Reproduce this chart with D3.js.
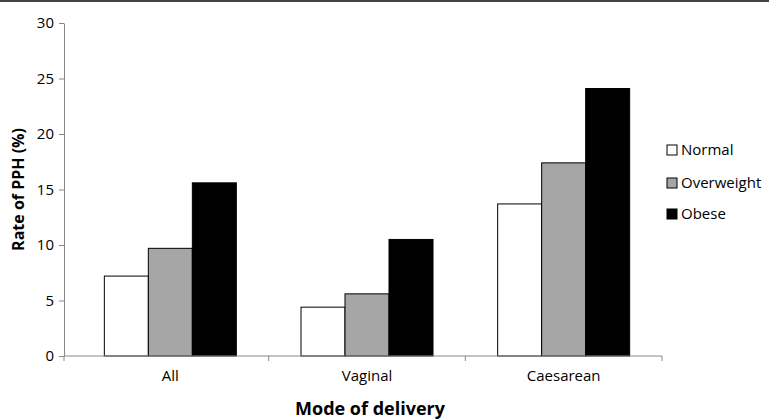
<!DOCTYPE html>
<html><head><meta charset="utf-8">
<script src="https://cdn.jsdelivr.net/npm/d3@7"></script>
<style>body{margin:0;background:#fff}svg{font-family:"Open Sans",sans-serif}</style>
</head><body><svg width="769" height="419"></svg>
<script>
const categories = ['All', 'Vaginal', 'Caesarean']
const seriesNames = ['Normal', 'Overweight', 'Obese']
const normal = [7.2, 4.4, 13.7]
const overweight = [9.7, 5.6, 17.4]
const obese = [15.6, 10.5, 24.1]
const yTicks = [0, 5, 10, 15, 20, 25, 30]
const colors = ['#ffffff', '#a6a6a6', '#000000']
const series = [normal, overweight, obese]

const svg = d3.select('svg')
svg.append('rect').attr('x', 0).attr('y', 0).attr('width', 769).attr('height', 2).attr('fill', '#444')

const margin = { left: 64, top: 23, right: 107, bottom: 63 }
const width = 769 - margin.left - margin.right
const height = 419 - margin.top - margin.bottom
const g = svg.append('g').attr('transform', `translate(${margin.left},${margin.top})`)

const x = d3.scaleBand().domain(categories).range([8, width])
const x1 = d3.scaleBand().domain(seriesNames).range([0, 132]).paddingInner(0)
const y = d3.scaleLinear().domain([0, 30]).range([height, 0])

categories.forEach((c, i) => {
  seriesNames.forEach((s, j) => {
    const v = series[j][i]
    g.append('rect')
      .attr('x', x(c) + x.bandwidth() / 2 - 66 + x1(s))
      .attr('y', y(v))
      .attr('width', x1.bandwidth())
      .attr('height', y(0) - y(v))
      .attr('fill', colors[j]).attr('stroke', '#000').attr('stroke-width', 1)
  })
})

const yAxis = g.append('g').call(d3.axisLeft(y).tickValues(yTicks).tickSize(5).tickSizeOuter(0))
const xAxis = g.append('g').attr('transform', `translate(0,${height})`)
  .call(d3.axisBottom(x).tickSize(5).tickSizeOuter(0))
xAxis.select('.domain').attr('d', `M0,0H${width}`)
xAxis.selectAll('.tick line').attr('transform', `translate(${x.bandwidth() / 2},0)`)
g.append('line').attr('x1', 0).attr('x2', 0).attr('y1', height).attr('y2', height + 5).attr('stroke', '#888')
;[yAxis, xAxis].forEach(a => {
  a.selectAll('path,line').attr('stroke', '#888')
  a.selectAll('text').attr('font-size', 15).attr('fill', '#000').attr('font-family', '"Open Sans",sans-serif')
})
yAxis.selectAll('text').attr('dx', '-2')
xAxis.selectAll('text').attr('dy', '1.1em')

svg.append('text').attr('transform', `translate(24,${margin.top + height / 2}) rotate(-90)`)
  .attr('text-anchor', 'middle').attr('font-size', 16).attr('font-weight', 'bold').text('Rate of PPH (%)')
svg.append('text').attr('x', 370).attr('y', 415)
  .attr('text-anchor', 'middle').attr('font-size', 18).attr('font-weight', 'bold').text('Mode of delivery')

const legY = [150, 183, 214]
seriesNames.forEach((s, j) => {
  svg.append('rect').attr('x', 667).attr('y', legY[j] - 5).attr('width', 10).attr('height', 10)
    .attr('fill', colors[j]).attr('stroke', '#000')
  svg.append('text').attr('x', 681).attr('y', legY[j]).attr('dy', '0.35em').attr('font-size', 15).text(s)
})
</script></body></html>
